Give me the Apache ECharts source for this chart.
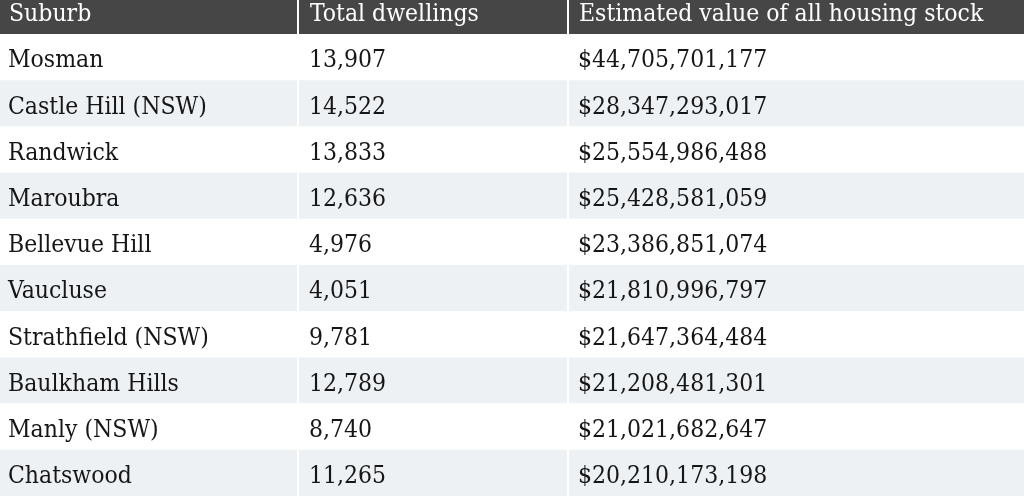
<!DOCTYPE html>
<html><head><meta charset="utf-8">
<style>html,body{margin:0;padding:0;background:#fff}#c{width:1024px;height:496px}</style>
<script src="https://cdn.jsdelivr.net/npm/echarts@6/dist/echarts.min.js"></script>
</head><body><div id="c"></div>
<script>
const headers = ['Suburb', 'Total dwellings', 'Estimated value of all housing stock'];
const suburbs = ['Mosman', 'Castle Hill (NSW)', 'Randwick', 'Maroubra', 'Bellevue Hill', 'Vaucluse', 'Strathfield (NSW)', 'Baulkham Hills', 'Manly (NSW)', 'Chatswood'];
const dwellings = [13907, 14522, 13833, 12636, 4976, 4051, 9781, 12789, 8740, 11265];
const housingValues = [44705701177, 28347293017, 25554986488, 25428581059, 23386851074, 21810996797, 21647364484, 21208481301, 21021682647, 20210173198];

const COL = [0, 298, 568, 1024];
const PAD = [8, 11, 10];
const HEADER_H = 34;
const TXT = { fontFamily: '"DejaVu Serif Condensed", "Liberation Serif"', fontSize: 24.5, verticalAlign: 'middle', align: 'left' };

function cellText(i, j) {
  if (j === 0) return suburbs[i];
  if (j === 1) return dwellings[i].toLocaleString('en-US');
  return '$' + housingValues[i].toLocaleString('en-US');
}

const data = [];
suburbs.forEach((s, i) => { for (let j = 0; j < 3; j++) data.push({ value: [j, s], row: i, col: j }); });

const headerGraphics = [{ type: 'rect', shape: { x: 0, y: 0, width: 1024, height: HEADER_H }, style: { fill: '#464646' } }];
headers.forEach((h, j) => {
  headerGraphics.push({ type: 'text', x: COL[j] + PAD[j] + 1, y: 15, style: Object.assign({ text: h, fill: '#ffffff' }, TXT) });
  if (j > 0) headerGraphics.push({ type: 'rect', shape: { x: COL[j] - 1, y: 0, width: 2, height: HEADER_H }, style: { fill: '#ffffff' } });
});

const chart = echarts.init(document.getElementById('c'), null, { renderer: 'canvas' });
chart.setOption({
  animation: false,
  backgroundColor: '#ffffff',
  grid: { left: 0, right: 0, top: HEADER_H, height: 467, containLabel: false },
  xAxis: { type: 'value', min: 0, max: 1024, show: false },
  yAxis: { type: 'category', data: suburbs, inverse: true, show: false },
  graphic: headerGraphics,
  series: [{
    type: 'custom',
    data: data,
    encode: { x: 0, y: 1 },
    clip: false,
    renderItem: function (params, api) {
      const item = data[params.dataIndex];
      const i = item.row, j = item.col;
      const p = api.coord([COL[j], api.value(1)]);
      const s = api.size([COL[j + 1] - COL[j], 1]);
      const x = p[0], y = p[1] - s[1] / 2, w = s[0], h = s[1];
      const children = [
        { type: 'rect', shape: { x: x, y: y, width: w, height: h }, style: { fill: i % 2 ? '#eef1f4' : '#ffffff' } },
        { type: 'text', x: x + PAD[j], y: p[1] + 4, style: Object.assign({ text: cellText(i, j), fill: '#161616' }, TXT) }
      ];
      if (j > 0) children.push({ type: 'rect', shape: { x: x - 1, y: y, width: 2, height: h }, style: { fill: '#ffffff' } });
      return { type: 'group', children: children };
    }
  }]
});
</script></body></html>
